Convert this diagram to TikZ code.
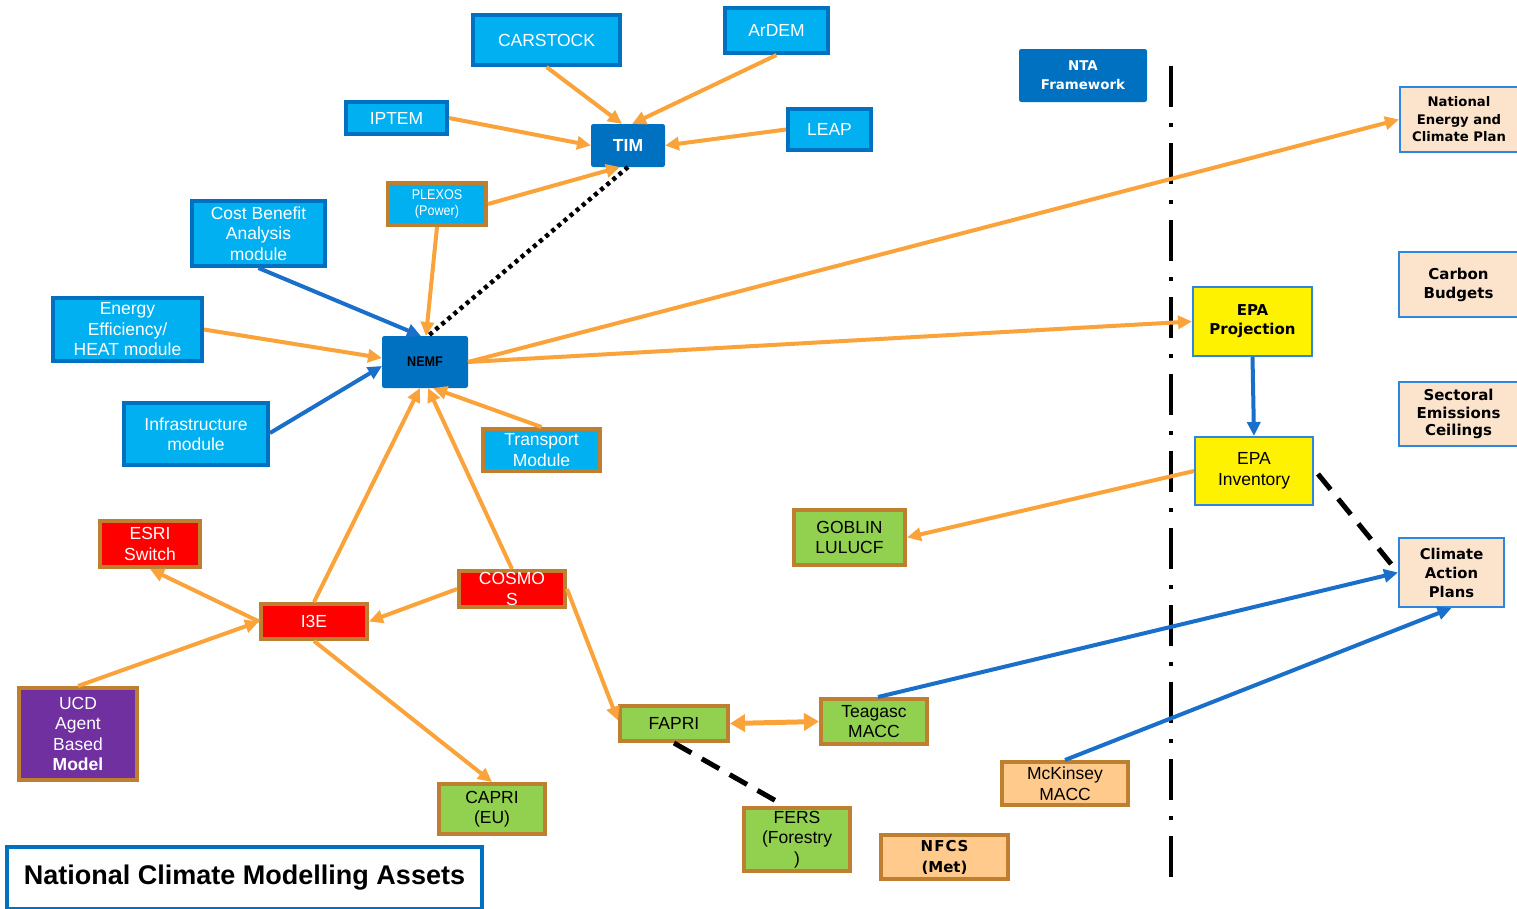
\documentclass[tikz,border=0pt]{standalone}
\usepackage{fontspec}
\setmainfont{Liberation Sans}
\newfontfamily\vfont{DejaVu Sans}
\newfontfamily\narrowfont[FakeStretch=0.9]{Liberation Sans}
\usetikzlibrary{arrows.meta,calc}
\definecolor{lblue}{HTML}{00B0F0}
\definecolor{dblue}{HTML}{0070C0}
\definecolor{brn}{HTML}{BF7F30}
\definecolor{org}{HTML}{FBA33B}
\definecolor{lnblue}{HTML}{1A6FCB}
\definecolor{grn}{HTML}{92D050}
\definecolor{purp}{HTML}{7030A0}
\definecolor{peach}{HTML}{FCE4CC}
\definecolor{lorg}{HTML}{FFCA8C}
\definecolor{bordblue}{HTML}{2E86DE}
\newcommand\fA{\fontsize{17.5}{20.5}\selectfont}
\tikzset{
  base/.style={rectangle, inner sep=0pt, align=center},
  lbx/.style={base, fill=lblue, draw=dblue, line width=4pt, text=white, font=\fA},
  lbxb/.style={base, fill=lblue, draw=brn, line width=4pt, text=white, font=\fA},
  dbx/.style={base, fill=dblue, draw=dblue, line width=1pt, rounded corners=2pt, text=white},
  rbx/.style={base, fill=red, draw=brn, line width=4pt, text=white, font=\fA},
  gbx/.style={base, fill=grn, draw=brn, line width=4pt, text=black, font=\fA},
  pbx/.style={base, fill=purp, draw=brn, line width=4pt, text=white, font=\fA},
  obx/.style={base, fill=lorg, draw=brn, line width=4pt, text=black, font=\fA},
  kbx/.style={base, fill=peach, draw=bordblue, line width=2pt, text=black},
  ybx/.style={base, fill=yellow, draw=bordblue, line width=2pt, text=black},
  oarr/.style={draw=org, line width=4pt, -{Triangle[length=14pt,width=13pt]}},
  barr/.style={draw=lnblue, line width=4pt, -{Triangle[length=14pt,width=13pt]}},
  kdash/.style={draw=black, line width=5pt, dash pattern=on 20pt off 12pt},
  kdot/.style={draw=black, line width=4.5pt, dash pattern=on 4pt off 4pt},
  ddot/.style={draw=black, line width=4.5pt, dash pattern=on 41pt off 16pt on 4pt off 16pt}
}
\begin{document}
\begin{tikzpicture}[x=1pt,y=-1pt]
\useasboundingbox (0,0) rectangle (1517,908);
\fill[white] (0,0) rectangle (1517,908);

% separator
\draw[ddot] (1171,66) -- (1171,885);

% top cluster
\node[lbx, minimum width=147pt, minimum height=50pt] (carstock) at (546.5,40) {CARSTOCK};
\node[lbx, minimum width=103pt, minimum height=45pt] (ardem) at (776.5,30.5) {ArDEM};
\node[lbx, minimum width=101pt, minimum height=32pt] (iptem) at (396.5,118) {IPTEM};
\node[lbx, minimum width=83pt, minimum height=41pt] (leap) at (829.5,129.5) {LEAP};
\node[dbx, minimum width=73pt, minimum height=42pt, font=\fA\bfseries] (tim) at (628,145.5) {TIM};
\node[lbxb, minimum width=98pt, minimum height=42pt, font=\narrowfont\fontsize{14}{16}\selectfont] (plexos) at (437,204) {PLEXOS\\(Power)};
\node[lbx, minimum width=133pt, minimum height=65pt] (cba) at (258.5,233.5) {Cost Benefit\\Analysis\\module};
\node[lbx, minimum width=149pt, minimum height=63pt] (ee) at (127.5,329.5) {Energy\\Efficiency/\\HEAT module};
\node[dbx, minimum width=85pt, minimum height=51pt, text=black, font=\narrowfont\bfseries\fontsize{14}{16}\selectfont] (nemf) at (425,362) {NEMF};
\node[lbx, minimum width=144pt, minimum height=62pt] (infra) at (196,434) {Infrastructure\\module};
\node[lbxb, minimum width=117pt, minimum height=42pt] (transport) at (541.5,450) {Transport\\Module};

% lower left cluster
\node[rbx, minimum width=100pt, minimum height=46pt] (esri) at (150,544) {ESRI\\Switch};
\node[rbx, minimum width=106pt, minimum height=36pt] (cosmos) at (512,589) {COSMO\\S};
\node[rbx, minimum width=106pt, minimum height=35pt] (i3e) at (314,621.5) {I3E};
\node[pbx, minimum width=118pt, minimum height=92pt] (ucd) at (78,734) {UCD\\Agent\\Based\\\textbf{Model}};
\node[gbx, minimum width=106pt, minimum height=50pt] (capri) at (492,809) {CAPRI\\(EU)};
\node[gbx, minimum width=108pt, minimum height=35pt] (fapri) at (674,723.5) {FAPRI};
\node[gbx, minimum width=106pt, minimum height=45pt] (teagasc) at (874,721.5) {Teagasc\\MACC};
\node[gbx, minimum width=106pt, minimum height=63pt] (fers) at (797,839.5) {FERS\\(Forestry\\)};
\node[gbx, minimum width=111pt, minimum height=55pt] (goblin) at (849.5,537.5) {GOBLIN\\LULUCF};
\node[obx, minimum width=127pt, minimum height=44pt, font=\vfont\bfseries\fontsize{15}{21}\selectfont] (nfcs) at (944.5,857) {N\kern1ptF\kern1ptC\kern1ptS\\(Met)};
\node[obx, minimum width=126pt, minimum height=43pt] (mck) at (1065,783.5) {McKinsey\\MACC};

% right side
\node[dbx, minimum width=127pt, minimum height=52pt, font=\vfont\bfseries\fontsize{13.4}{19}\selectfont] (nta) at (1083,75.5) {NTA\\Framework};
\node[kbx, minimum width=118pt, minimum height=65pt, font=\vfont\bfseries\fontsize{13.2}{17.5}\selectfont] (necp) at (1459,119.5) {National\\Energy and\\Climate Plan};
\node[kbx, minimum width=119pt, minimum height=65pt, font=\vfont\bfseries\fontsize{15}{19}\selectfont] (carbon) at (1458.5,284.5) {Carbon\\Budgets};
\node[kbx, minimum width=119pt, minimum height=64pt, font=\vfont\bfseries\fontsize{15}{17.5}\selectfont] (sec) at (1458.5,414) {Sectoral\\Emissions\\Ceilings};
\node[ybx, minimum width=119pt, minimum height=69pt, font=\vfont\bfseries\fontsize{15}{19}\selectfont] (epap) at (1252.5,321.5) {EPA\\Projection};
\node[ybx, minimum width=118pt, minimum height=68pt, font=\fA] (epai) at (1254,471) {EPA\\Inventory};
\node[kbx, minimum width=105pt, minimum height=69pt, font=\vfont\bfseries\fontsize{14.8}{19}\selectfont] (cap) at (1451.5,572.5) {Climate\\Action\\Plans};

% title
\node[base, fill=white, draw=dblue, line width=4pt, minimum width=475pt, minimum height=62pt, font=\bfseries\fontsize{27}{30}\selectfont] (title) at (244.5,877.5) {National Climate Modelling Assets};

% connectors
\draw[oarr] (carstock.south) -- ($(tim.north)+(-6,0)$);
\draw[oarr] (ardem.south) -- ($(tim.north)+(4,0)$);
\draw[oarr] (iptem.east) -- (tim.west);
\draw[oarr] (leap.west) -- (tim.east);
\draw[oarr] (plexos.east) -- ($(tim.south)+(-8,0)$);
\draw[kdot] (tim.south) -- ($(nemf.north)+(3,0)$);
\draw[oarr] (plexos.south) -- ($(nemf.north)+(1,0)$);
\draw[barr] (cba.south) -- ($(nemf.north)+(-4,0)$);
\draw[oarr] (ee.east) -- ($(nemf.west)+(0,-4)$);
\draw[barr] ($(infra.east)+(0,-1)$) -- ($(nemf.west)+(0,4)$);
\draw[oarr] (transport.north) -- ($(nemf.south)+(8,0)$);
\draw[oarr] (i3e.north) -- ($(nemf.south)+(-5,0)$);
\draw[oarr] (cosmos.north) -- ($(nemf.south)+(3,0)$);
\draw[oarr] (nemf.east) -- (necp.west);
\draw[oarr] (nemf.east) -- (epap.west);
\draw[oarr] (cosmos.west) -- (i3e.east);
\draw[oarr] (i3e.west) -- (esri.south);
\draw[oarr] (ucd.north) -- (i3e.west);
\draw[oarr] (i3e.south) -- (capri.north);
\draw[oarr] (cosmos.east) -- ($(fapri.west)+(0,-3)$);
\draw[draw=org, line width=5pt, {Triangle[length=15pt,width=17pt]}-{Triangle[length=15pt,width=17pt]}] (fapri.east) -- (teagasc.west);
\draw[kdash] (fapri.south) -- ($(fers.north)+(-12,0)$);
\draw[oarr] (epai.west) -- (goblin.east);
\draw[barr] (epap.south) -- (epai.north);
\draw[kdash] ($(epai.east)+(4,3)$) -- (cap.west);
\draw[barr] ($(teagasc.north)+(4,0)$) -- (cap.west);
\draw[barr] (mck.north) -- (cap.south);
\end{tikzpicture}
\end{document}
